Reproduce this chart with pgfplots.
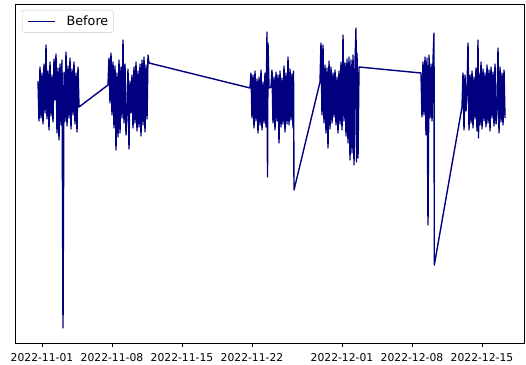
\documentclass[border=0pt]{standalone}
\usepackage{fontspec}
\setmainfont{DejaVu Sans}
\usepackage{pgfplots}
\usepackage{pgfplotstable}
\pgfplotsset{compat=1.18}

% Sensor trace; x = days since 2022-11-01, y = raw reading
\pgfplotstableread{
x y
-0.4 262
-0.3 222
-0.2 276
-0.1 225
0.0 270
0.1 219
0.2 279
0.3 230
0.4 298
0.5 224
0.6 272
0.7 213
0.8 281
0.9 227
1.0 268
1.1 221
1.2 284
1.3 243
1.4 289
1.5 210
1.6 275
1.7 203
1.8 279
1.9 218
2.0 283
2.1 15
2.2 271
2.3 222
2.4 291
2.5 217
2.6 277
2.7 225
2.8 285
2.9 214
3.0 274
3.1 228
3.2 281
3.3 219
3.4 270
3.5 211
3.6 276
3.7 236
6.6 258
6.7 285
6.8 240
6.9 290
7.0 228
7.1 281
7.2 215
7.3 277
7.4 193
7.5 270
7.6 206
7.7 283
7.8 210
7.9 276
8.0 225
8.1 303
8.2 220
8.3 279
8.4 208
8.5 232
8.6 274
8.7 194
8.8 262
8.9 230
9.0 268
9.1 215
9.2 276
9.3 220
9.4 281
9.5 212
9.6 272
9.7 216
9.8 279
9.9 207
10.0 283
10.1 218
10.2 286
10.3 211
10.4 278
10.5 224
10.6 288
10.7 280
20.8 255
20.9 270
21.0 225
21.1 268
21.2 215
21.3 272
21.4 222
21.5 264
21.6 210
21.7 266
21.8 218
21.9 273
22.0 213
22.1 261
22.2 220
22.3 270
22.4 216
22.5 311
22.55 166
22.6 300
22.7 255
22.9 256
23.0 273
23.1 220
23.2 266
23.3 213
23.4 271
23.5 222
23.6 268
23.7 200
23.8 272
23.9 216
24.0 265
24.1 219
24.2 277
24.3 211
24.4 270
24.5 219
24.6 286
24.7 218
24.8 274
24.9 223
25.0 269
25.1 215
25.15 272
25.2 153
27.8 261
27.9 300
28.0 228
28.1 298
28.2 220
28.3 278
28.4 210
28.5 275
28.6 195
28.7 282
28.8 214
28.9 276
29.0 220
29.1 270
29.2 226
29.3 273
29.4 218
29.5 266
29.6 210
29.7 272
29.8 219
29.9 281
30.0 213
30.1 308
30.2 222
30.3 280
30.4 207
30.5 284
30.6 200
30.7 286
30.8 183
30.9 283
31.0 190
31.1 288
31.2 178
31.3 280
31.4 315
31.45 181
31.5 290
31.6 185
31.7 276
37.9 270
38.0 226
38.1 281
38.2 228
38.3 286
38.4 208
38.5 285
38.6 118
38.7 288
38.8 225
38.9 279
39.0 222
39.1 283
39.2 310
39.23 78
42.0 236
42.1 270
42.2 213
42.3 268
42.4 232
42.5 251
42.6 300
42.7 213
42.8 268
42.9 220
43.0 272
43.1 215
43.2 266
43.3 224
43.4 275
43.5 212
43.6 303
43.65 205
43.7 270
43.8 218
43.9 281
44.0 214
44.1 274
44.2 222
44.3 270
44.4 216
44.5 278
44.6 220
44.7 273
44.8 212
44.9 276
45.0 225
45.1 271
45.2 217
45.3 279
45.4 219
45.5 230
45.6 295
45.7 210
45.8 276
45.9 221
46.0 270
46.1 218
46.2 273
46.3 225
}\beforedata

\definecolor{navyline}{RGB}{0,0,128}

\begin{document}
\begin{tikzpicture}
\useasboundingbox (-15bp,-22bp) rectangle (511bp,343bp);
\begin{axis}[
  at={(0bp,0bp)}, anchor=south west,
  scale only axis,
  width=509bp, height=339bp,
  xmin=-2.7, xmax=48.2,
  ymin=0, ymax=339,
  axis line style={black, line width=0.6bp},
  xtick={0,7,14,21,30,37,44},
  xticklabels={2022-11-01,2022-11-08,2022-11-15,2022-11-22,2022-12-01,2022-12-08,2022-12-15},
  ytick=\empty,
  xtick pos=bottom,
  tick align=outside,
  major tick length=3.5bp,
  every tick/.style={black, line width=0.6bp},
  xticklabel style={font=\fontsize{10.8}{13}\selectfont, inner sep=0pt, yshift=-6.5bp},
  /pgf/number format/assume math mode=true,
  legend style={
    at={(0.0138,0.9823)}, anchor=north west,
    draw=black!20, rounded corners=2bp,
    fill=white, fill opacity=0.8, text opacity=1,
    font=\fontsize{12.8}{15}\selectfont,
    inner xsep=5bp, inner ysep=5.5bp,
    nodes={inner sep=0bp},
    /tikz/every odd column/.append style={column sep=11bp},
  },
  legend cell align=left,
  legend image code/.code={\draw[#1, line width=1.4bp] (0bp,0bp) -- (27bp,0bp);},
]
\addplot[navyline, line width=1.4bp, line join=round] table[x=x, y=y] {\beforedata};
\addlegendentry{Before}
\end{axis}
\end{tikzpicture}
\end{document}
